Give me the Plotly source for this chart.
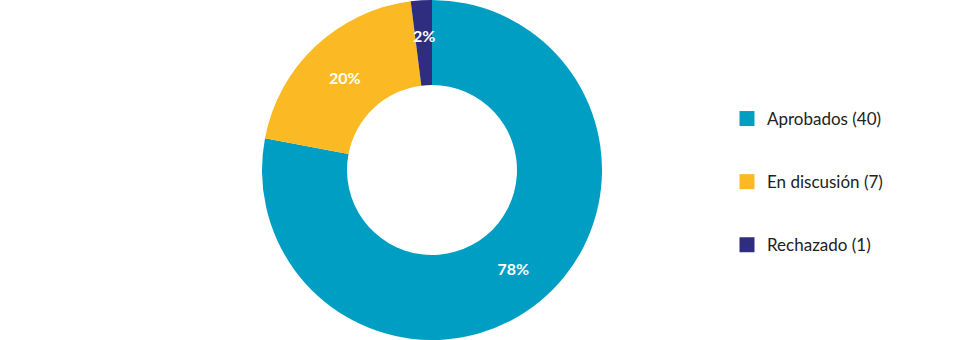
import math
import plotly.graph_objects as go

categories = ["Aprobados", "En discusión", "Rechazado"]
counts = [40, 7, 1]
percentages = [78, 20, 2]
colors = ["#009EC3", "#FBBA23", "#2E2D80"]

cx, r, W, H = 432, 170, 956, 340
hole = 0.5
label_font = dict(family="Lato", size=16, color="white", weight="bold")

# slices too thin for plotly's inside text get an annotation near the slice
min_inside = 5
texts = [f"{p}%" if p >= min_inside else "" for p in percentages]

fig = go.Figure(go.Pie(
    labels=categories,
    values=percentages,
    text=texts,
    texttemplate="%{text}",
    textinfo="text",
    textposition="inside",
    insidetextorientation="horizontal",
    textfont=label_font,
    marker=dict(colors=colors, line=dict(width=0)),
    hole=hole,
    sort=False,
    direction="clockwise",
    rotation=0,
    showlegend=False,
    domain=dict(x=[(cx - r) / W, (cx + r) / W], y=[0, 1]),
))

total = sum(percentages)
cum = 0
for p in percentages:
    if p < min_inside:
        mid = (cum + p / 2) / total * 2 * math.pi
        rr = (1 + hole) / 2 * r / H * 1.06
        fig.add_annotation(
            x=cx / W + math.sin(mid) * rr * H / W,
            y=0.5 + math.cos(mid) * rr,
            xref="paper", yref="paper", xanchor="center", yanchor="middle",
            text=f"{p}%", showarrow=False, font=label_font,
        )
    cum += p

# legend entries
for c, n, col in zip(categories, counts, colors):
    fig.add_trace(go.Scatter(
        x=[None], y=[None], mode="markers",
        marker=dict(symbol="square", size=15, color=col),
        name=f"{c} ({n})", legendgroup=c, showlegend=True,
    ))

fig.update_layout(
    width=W, height=H,
    margin=dict(l=0, r=0, t=0, b=0),
    paper_bgcolor="white",
    plot_bgcolor="white",
    xaxis=dict(visible=False),
    yaxis=dict(visible=False),
    legend=dict(
        x=727 / W, y=0.5 - 12 / H, xanchor="left", yanchor="middle",
        font=dict(family="Lato", size=17, color="#222222"),
        itemwidth=30,
        traceorder="grouped",
        tracegroupgap=38,
    ),
)

fig.write_html("out.html")
